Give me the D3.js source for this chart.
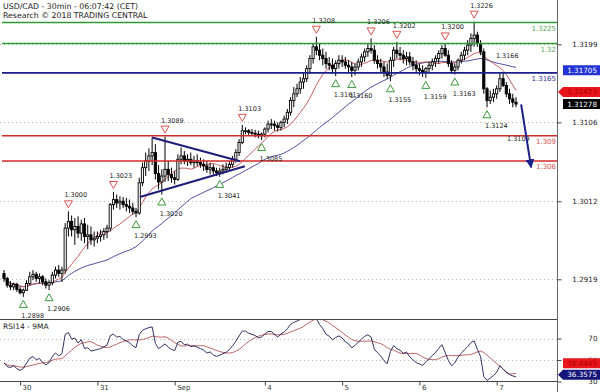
<!DOCTYPE html>
<html>
<head>
<meta charset="utf-8">
<script src="https://cdn.jsdelivr.net/npm/d3@7/dist/d3.min.js"></script>
<style>
body { margin: 0; background: #fff; }
svg { display: block; font-family: "DejaVu Sans", Verdana, sans-serif; }
</style>
</head>
<body>
<script>
var width = 600,
	height = 392,
	axisX = 557;

// hourly candles, prices in pips above 1.3000
var firstOpen = -74;
var closes = [
	-80,-88,-90,-87,-93,-97,-94,-86,-78,-75,
	-80,-78,-84,-88,-85,-76,-70,-74,-70,-20,
	-12,-22,-18,-26,-15,-30,-28,-34,-32,-30,
	-28,-24,-20,8,14,10,12,8,6,4,
	0,-2,34,52,60,66,70,45,35,42,
	50,44,40,38,62,66,60,62,58,60,
	58,56,54,50,52,48,46,48,50,52,
	56,62,70,82,96,96,94,93,92,90,
	92,98,104,104,102,100,106,110,118,132,
	140,146,154,158,170,182,196,192,186,182,
	176,174,170,176,180,178,174,172,168,172,
	178,184,190,194,192,180,176,172,166,162,
	180,192,188,186,182,184,178,174,170,168,
	166,170,174,178,182,188,194,186,176,168,
	172,180,186,192,198,206,210,200,190,146,
	132,136,140,146,158,150,140,134,130,127.8
];
var highs = [
	-70,-78,-83,-85,-85,-90,-92,-82,-72,-70,
	-72,-74,-76,-80,-82,-72,-66,-64,-66,-14,
	0,-5,-8,-6,-10,-8,-16,-18,-24,-24,
	-22,-20,-16,10,23,20,18,17,16,14,
	10,4,40,58,70,75,88,80,55,50,
	89,60,52,48,68,76,72,68,70,66,
	68,64,62,60,58,56,52,52,56,58,
	60,66,74,86,103,100,98,98,97,96,
	94,100,108,110,108,106,108,114,122,136,
	148,152,160,166,174,186,200,208,200,194,
	190,184,182,180,186,186,184,180,178,176,
	182,188,194,200,206,198,186,182,178,176,
	184,196,202,196,192,190,190,184,180,176,
	174,172,178,182,186,192,198,200,192,180,
	176,182,190,196,204,212,226,214,204,194,
	148,144,146,150,166,166,154,146,140,136
];
var lows = [
	-84,-91,-94,-94,-96,-99,-102,-95,-88,-82,
	-84,-86,-88,-92,-94,-88,-80,-78,-84,-74,
	-30,-30,-40,-32,-35,-38,-45,-40,-42,-38,
	-36,-34,-32,-24,2,4,2,4,0,-2,
	-4,-7,-4,30,42,48,55,38,26,20,
	35,36,34,32,36,56,56,54,55,52,
	54,52,48,46,44,44,42,41,44,46,
	48,52,58,66,80,92,90,90,88,87,
	85,88,94,98,96,95,96,100,104,114,
	124,136,140,146,154,164,176,186,180,174,
	170,168,164,161,170,172,170,166,160,162,
	168,172,178,184,188,176,170,166,160,158,
	155,172,182,180,176,174,174,168,164,162,
	160,159,166,168,172,176,182,184,172,164,
	163,168,176,180,186,190,196,196,186,140,
	124,128,130,134,142,148,136,128,124,124
];

var dayLabels = ["30", "31", "Sep", "4", "5", "6", "7"];
var dayBars = [5, 29, 53, 81, 105, 129, 153];

var priceTicks = [1.2919, 1.3012, 1.3106, 1.3199];
var rsiTicks = [30, 50, 70];

var levelPrices = [1.3225, 1.32, 1.3165, 1.309, 1.306];
var levelKinds = ["green", "green", "blue", "red", "red"];

// swing points marked on the chart
var peakBars = [20, 34, 50, 74, 97, 114, 122, 137, 146];
var peakTextOnly = [154];
var troughBars = [6, 14, 41, 49, 67, 80, 103, 108, 120, 131, 140, 150];

// triangle pattern and projection arrow [bar, price]
var trendStarts = [[46, 1.30879], [42.2, 1.3017]];
var trendEnds = [[73.3, 1.30596], [74.8, 1.30536]];
var arrowStart = [160.6, 1.31275];
var arrowEnd = [163.7, 1.30524];
var targetText = "1.3109", targetBar = 156.2, targetPrice = 1.3084;

// last values shown in the boxes at the right
var slowMaLast = 1.31705, fastMaLast = 1.31423, lastPrice = 1.31278;
var rsiLast = 36.3575, rsiMaLast = 38.4445;

var fastPeriod = 12, slowPeriod = 40, rsiPeriod = 14, rsiMaPeriod = 9, rsiSeed = 4;

var colors = { green: "#2f9a35", blue: "#1b1f8a", red: "#d42a2a" };

function px(k) { return 1.3 + k / 10000; }

function sma(vals, n) {
	return vals.map(function(v, i) {
		return d3.mean(vals.slice(Math.max(0, i - n + 1), i + 1));
	});
}

function rsi(vals, n) {
	var ag = rsiSeed, al = rsiSeed, prev = firstOpen;
	return vals.map(function(v) {
		var ch = v - prev;
		prev = v;
		ag += (Math.max(ch, 0) - ag) / n;
		al += (Math.max(-ch, 0) - al) / n;
		return 100 - 100 / (1 + ag / al);
	});
}

var x = d3.scaleLinear().domain([0, closes.length - 1]).range([4, 516]);
var y = d3.scaleLinear().domain([1.2919, 1.3199]).range([279.3, 44.3]);
var yr = d3.scaleLinear().domain([30, 70]).range([381.5, 338.5]);

var svg = d3.select("body").append("svg")
	.attr("width", width)
	.attr("height", height);

svg.append("defs").append("clipPath").attr("id", "rsiclip")
	.append("rect").attr("x", 0).attr("y", 319.5).attr("width", axisX).attr("height", 62);
svg.select("defs").append("marker")
	.attr("id", "head")
	.attr("viewBox", "0 0 10 10")
	.attr("refX", 9).attr("refY", 5)
	.attr("markerWidth", 4.5).attr("markerHeight", 4.5)
	.attr("orient", "auto")
	.append("path").attr("d", "M0,0L10,5L0,10z").attr("fill", "#1b1f8a");

// dotted grid
svg.append("g").selectAll("line")
	.data(priceTicks)
	.enter().append("line")
	.attr("x1", 0).attr("x2", axisX)
	.attr("y1", function(d) { return Math.round(y(d)) + 0.5; })
	.attr("y2", function(d) { return Math.round(y(d)) + 0.5; })
	.attr("stroke", "#b8b8b8").attr("stroke-dasharray", "1,3");
svg.append("g").selectAll("line")
	.data([50, 70])
	.enter().append("line")
	.attr("x1", 0).attr("x2", axisX)
	.attr("y1", function(d) { return Math.round(yr(d)) + 0.5; })
	.attr("y2", function(d) { return Math.round(yr(d)) + 0.5; })
	.attr("stroke", "#b8b8b8").attr("stroke-dasharray", "1,3");

// title
svg.append("text").attr("x", 3).attr("y", 8.5)
	.attr("font-size", 7.8).attr("fill", "#222")
	.text("USD/CAD - 30min - 06:07:42 (CET)");
svg.append("text").attr("x", 3).attr("y", 18.3)
	.attr("font-size", 7.8).attr("fill", "#222")
	.text("Research \u00a9 2018 TRADING CENTRAL");

// moving averages
var closePrices = closes.map(px);
var line = d3.line()
	.x(function(d, i) { return x(i); })
	.y(function(d) { return y(d); });
svg.append("path").datum(sma(closePrices, slowPeriod))
	.attr("d", line).attr("fill", "none")
	.attr("stroke", "#3a3a96").attr("stroke-width", 0.9);
svg.append("path").datum(sma(closePrices, fastPeriod))
	.attr("d", line).attr("fill", "none")
	.attr("stroke", "#c44a4a").attr("stroke-width", 0.9);

// candles
var bars = closes.map(function(c, i) {
	return { i: i, o: px(i ? closes[i - 1] : firstOpen), h: px(highs[i]), l: px(lows[i]), c: px(c) };
});
var candle = svg.append("g").selectAll("g")
	.data(bars)
	.enter().append("g");
candle.append("line")
	.attr("x1", function(d) { return x(d.i); })
	.attr("x2", function(d) { return x(d.i); })
	.attr("y1", function(d) { return y(d.h); })
	.attr("y2", function(d) { return y(d.l); })
	.attr("stroke", "#000").attr("stroke-width", 1);
candle.append("rect")
	.attr("x", function(d) { return x(d.i) - 1.1; })
	.attr("width", 2.2)
	.attr("y", function(d) { return y(Math.max(d.o, d.c)); })
	.attr("height", function(d) { return Math.max(0.8, Math.abs(y(d.o) - y(d.c))); })
	.attr("fill", function(d) { return d.c >= d.o ? "#fff" : "#000"; })
	.attr("stroke", "#000").attr("stroke-width", 0.9);

// support / resistance levels
svg.append("g").selectAll("line")
	.data(levelPrices)
	.enter().append("line")
	.attr("x1", 2).attr("x2", axisX)
	.attr("y1", function(d) { return y(d); })
	.attr("y2", function(d) { return y(d); })
	.attr("stroke", function(d, i) { return colors[levelKinds[i]]; })
	.attr("stroke-width", 1.6);
svg.append("g").selectAll("text")
	.data(levelPrices)
	.enter().append("text")
	.attr("x", axisX - 1)
	.attr("y", function(d) { return y(d) + 8.5; })
	.attr("text-anchor", "end")
	.attr("font-size", 7)
	.attr("fill", function(d, i) { return levelKinds[i] == "green" ? "#5aa85a" : levelKinds[i] == "red" ? "#d9534f" : "#2a2f8f"; })
	.text(function(d) { return String(d); });

// triangle pattern
svg.append("g").selectAll("line")
	.data(trendStarts)
	.enter().append("line")
	.attr("x1", function(d) { return x(d[0]); })
	.attr("y1", function(d) { return y(d[1]); })
	.attr("x2", function(d, i) { return x(trendEnds[i][0]); })
	.attr("y2", function(d, i) { return y(trendEnds[i][1]); })
	.attr("stroke", "#1e1e78").attr("stroke-width", 2);

// projection
svg.append("text").attr("x", x(targetBar)).attr("y", y(targetPrice))
	.attr("font-size", 6.5).attr("fill", "#222").text(targetText);
svg.append("line")
	.attr("x1", x(arrowStart[0])).attr("y1", y(arrowStart[1]))
	.attr("x2", x(arrowEnd[0])).attr("y2", y(arrowEnd[1]))
	.attr("stroke", "#1b1f8a").attr("stroke-width", 2)
	.attr("marker-end", "url(#head)");

// swing labels and markers
var fmt = d3.format(".4f");
var marks = svg.append("g");
marks.selectAll(".peak-label")
	.data(peakBars.concat(peakTextOnly))
	.enter().append("text")
	.attr("x", function(d) { return x(d) - 4; })
	.attr("y", function(d) { return y(px(highs[d])) - 14; })
	.attr("font-size", 6.5).attr("fill", "#222")
	.text(function(d) { return fmt(px(highs[d])); });
marks.selectAll(".trough-label")
	.data(troughBars)
	.enter().append("text")
	.attr("x", function(d) { return x(d) - 2; })
	.attr("y", function(d) { return y(px(lows[d])) + 21; })
	.attr("font-size", 6.5).attr("fill", "#222")
	.text(function(d) { return fmt(px(lows[d])); });
marks.selectAll(".peak")
	.data(peakBars)
	.enter().append("path")
	.attr("d", function(d) {
		var cx = x(d), cy = y(px(highs[d])) - 7;
		return "M" + (cx - 4) + "," + (cy - 3.5) + "L" + (cx + 4) + "," + (cy - 3.5) + "L" + cx + "," + (cy + 3.5) + "Z";
	})
	.attr("fill", "#fff").attr("stroke", "#d9534f").attr("stroke-width", 1);
marks.selectAll(".trough")
	.data(troughBars)
	.enter().append("path")
	.attr("d", function(d) {
		var cx = x(d), cy = y(px(lows[d])) + 7;
		return "M" + (cx - 4) + "," + (cy + 3.5) + "L" + (cx + 4) + "," + (cy + 3.5) + "L" + cx + "," + (cy - 3.5) + "Z";
	})
	.attr("fill", "#fff").attr("stroke", "#3c9a3c").attr("stroke-width", 1);

// RSI panel
var rsiVals = rsi(closes, rsiPeriod);
var rsiMa = sma(rsiVals, rsiMaPeriod);
var rline = d3.line()
	.x(function(d, i) { return x(i); })
	.y(function(d) { return yr(d); });
var rg = svg.append("g").attr("clip-path", "url(#rsiclip)");
rg.append("path").datum(rsiMa)
	.attr("d", rline).attr("fill", "none")
	.attr("stroke", "#b65454").attr("stroke-width", 0.9);
rg.append("path").datum(rsiVals)
	.attr("d", rline).attr("fill", "none")
	.attr("stroke", "#1c1c55").attr("stroke-width", 0.9);
svg.append("text").attr("x", 3).attr("y", 328.5)
	.attr("font-size", 7.5).attr("fill", "#222").text("RSI14 - 9MA");

// frame
svg.append("line").attr("x1", 0).attr("x2", axisX).attr("y1", 319.5).attr("y2", 319.5)
	.attr("stroke", "#444");
svg.append("line").attr("x1", 0).attr("x2", axisX).attr("y1", 381.5).attr("y2", 381.5)
	.attr("stroke", "#444");
svg.append("line").attr("x1", axisX + 0.5).attr("x2", axisX + 0.5).attr("y1", 0).attr("y2", height)
	.attr("stroke", "#666");

// axes
var yAxis = d3.axisRight(y).tickValues(priceTicks).tickSize(4).tickFormat(fmt);
svg.append("g").attr("transform", "translate(" + (axisX + 0.5) + ",0)")
	.call(yAxis)
	.call(function(g) { g.select(".domain").remove(); })
	.call(function(g) {
		g.selectAll("line").attr("stroke", "#444");
		g.selectAll("text").attr("x", 40).attr("text-anchor", "end")
			.attr("font-size", 7.2).attr("font-family", "DejaVu Sans").attr("fill", "#222");
	});
var rAxis = d3.axisRight(yr).tickValues(rsiTicks).tickSize(4);
svg.append("g").attr("transform", "translate(" + (axisX + 0.5) + ",0)")
	.call(rAxis)
	.call(function(g) { g.select(".domain").remove(); })
	.call(function(g) {
		g.selectAll("line").attr("stroke", "#444");
		g.selectAll("text").attr("x", 40).attr("text-anchor", "end")
			.attr("font-size", 7.2).attr("font-family", "DejaVu Sans").attr("fill", "#222");
	});
var xAxis = d3.axisBottom(x).tickValues(dayBars).tickSize(4)
	.tickFormat(function(d, i) { return dayLabels[i]; });
svg.append("g").attr("transform", "translate(0,381.5)")
	.call(xAxis)
	.call(function(g) { g.select(".domain").remove(); })
	.call(function(g) {
		g.selectAll("line").attr("stroke", "#444");
		g.selectAll("text").attr("text-anchor", "start").attr("x", 2).attr("y", 4)
			.attr("font-size", 7).attr("font-family", "DejaVu Sans").attr("fill", "#333");
	});

// value boxes on the right
function valueBox(cy, text, fill, ink, arrow) {
	var g = svg.append("g");
	var top = cy - 5, bot = cy + 5, left = axisX + 6;
	var d = arrow
		? "M" + (axisX + 1) + "," + cy + "L" + left + "," + top + "L" + width + "," + top + "L" + width + "," + bot + "L" + left + "," + bot + "Z"
		: "M" + left + "," + top + "L" + width + "," + top + "L" + width + "," + bot + "L" + left + "," + bot + "Z";
	g.append("path").attr("d", d).attr("fill", fill);
	g.append("text").attr("x", 597).attr("y", cy + 2.6)
		.attr("text-anchor", "end").attr("font-size", 7.2).attr("fill", ink)
		.text(text);
}
var f5 = d3.format(".5f"), f4 = d3.format(".4f");
valueBox(y(slowMaLast) + 2, f5(slowMaLast), "#2433d6", "#fff", false);
valueBox(y(fastMaLast), f5(fastMaLast), "#e8161c", "#b00000", true);
valueBox(y(lastPrice), f5(lastPrice), "#000", "#fff", false);
var rsiY = yr(rsiLast), rsiMaY = Math.min(yr(rsiMaLast), rsiY - 11.5);
valueBox(rsiMaY, f4(rsiMaLast), "#e8161c", "#b00000", false);
valueBox(rsiY, f4(rsiLast), "#16167a", "#fff", true);
</script>
</body>
</html>
